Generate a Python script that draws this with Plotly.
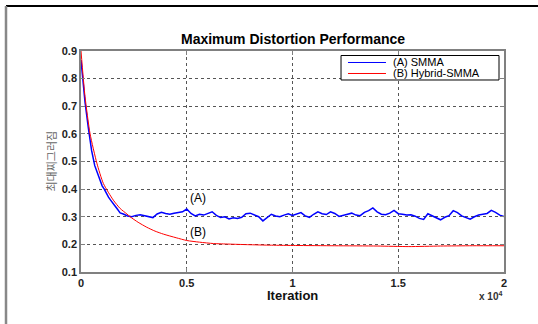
import plotly.graph_objects as go

# ---- data ----
smma_iter = [0, 80, 190, 350, 500, 650, 800, 900, 1000, 1100, 1200, 1300, 1400, 1500,
             1600, 1700, 1850, 2000, 2200, 2400, 2600, 2800, 3000, 3200, 3400, 3600,
             3800, 4000, 4200, 4400, 4600, 4800, 5000, 5200, 5400, 5600, 5800, 6000,
             6200, 6400, 6600, 6800, 7000, 7200, 7400, 7600, 7800, 8000, 8200, 8400,
             8600, 8800, 9000, 9200, 9400, 9600, 9800, 10000, 10200, 10400, 10600,
             10800, 11000, 11200, 11400, 11600, 11800, 12000, 12200, 12400, 12600,
             12800, 13000, 13200, 13400, 13600, 13800, 14000, 14200, 14400, 14600,
             14800, 15000, 15200, 15400, 15600, 15800, 16000, 16200, 16400, 16600,
             16800, 17000, 17200, 17400, 17600, 17800, 18000, 18200, 18400, 18600,
             18800, 19000, 19200, 19400, 19600, 19800, 20000]
smma_val = [0.867, 0.800, 0.715, 0.620, 0.540, 0.485, 0.452, 0.432, 0.412, 0.400,
            0.382, 0.371, 0.360, 0.348, 0.340, 0.330, 0.314, 0.310, 0.303, 0.300,
            0.305, 0.307, 0.303, 0.300, 0.297, 0.310, 0.316, 0.312, 0.309, 0.313,
            0.316, 0.318, 0.328, 0.312, 0.303, 0.309, 0.306, 0.313, 0.318, 0.305,
            0.297, 0.300, 0.292, 0.296, 0.294, 0.298, 0.311, 0.313, 0.307, 0.300,
            0.285, 0.298, 0.309, 0.303, 0.300, 0.306, 0.311, 0.305, 0.311, 0.315,
            0.303, 0.298, 0.309, 0.318, 0.311, 0.308, 0.318, 0.312, 0.301, 0.304,
            0.309, 0.313, 0.306, 0.304, 0.316, 0.322, 0.332, 0.318, 0.309, 0.307,
            0.313, 0.323, 0.311, 0.309, 0.306, 0.307, 0.302, 0.294, 0.290, 0.311,
            0.303, 0.296, 0.289, 0.298, 0.304, 0.322, 0.315, 0.303, 0.298, 0.291,
            0.300, 0.306, 0.309, 0.312, 0.323, 0.316, 0.306, 0.301]

hybrid_iter = [0, 190, 430, 750, 1060, 1530, 1850, 2170, 2320, 2700, 3110, 3500,
               3900, 4500, 5000, 5600, 6270, 7000, 7870, 9000, 10150, 12000, 14000,
               15500, 17000, 18500, 20000]
hybrid_val = [0.900, 0.735, 0.600, 0.494, 0.420, 0.360, 0.330, 0.310, 0.300, 0.280,
              0.262, 0.248, 0.237, 0.224, 0.214, 0.208, 0.203, 0.201, 0.199, 0.197,
              0.196, 0.195, 0.194, 0.192, 0.194, 0.195, 0.195]

x_tick_vals = [0, 5000, 10000, 15000, 20000]
x_tick_text = ["0", "0.5", "1", "1.5", "2"]
y_tick_vals = [0.1, 0.2, 0.3, 0.4, 0.5, 0.6, 0.7, 0.8, 0.9]
y_tick_text = ["0.1", "0.2", "0.3", "0.4", "0.5", "0.6", "0.7", "0.8", "0.9"]

series_names = ["(A) SMMA", "(B) Hybrid-SMMA"]
series_colors = ["#0000ff", "#ff0000"]
curve_labels = ["(A)", "(B)"]
label_pos_x = [5520, 5520]
label_pos_y = [0.368, 0.245]

FONT = "Liberation Sans, Arial, sans-serif"

fig = go.Figure()
fig.add_trace(go.Scatter(x=smma_iter, y=smma_val, mode="lines", name=series_names[0],
                         line=dict(color=series_colors[0], width=1.5)))
fig.add_trace(go.Scatter(x=hybrid_iter, y=hybrid_val, mode="lines", name=series_names[1],
                         line=dict(color=series_colors[1], width=1.0, shape="spline", smoothing=0.6)))

axis_common = dict(
    showline=True, linecolor="#808080", linewidth=1.5, mirror="ticks",
    ticks="inside", ticklen=4, tickcolor="#808080",
    showgrid=True, gridcolor="#555555", griddash="dot", gridwidth=1,
    zeroline=False,
    tickfont=dict(family=FONT, size=11, color="#222222", weight="bold"),
)

fig.update_xaxes(range=[0, 20000], tickvals=x_tick_vals, ticktext=x_tick_text, **axis_common)
fig.update_yaxes(range=[0.1, 0.9], tickvals=y_tick_vals, ticktext=y_tick_text, **axis_common)

annotations = []
for t, ax_, ay_ in zip(curve_labels, label_pos_x, label_pos_y):
    annotations.append(dict(x=ax_, y=ay_, xref="x", yref="y", text=t, showarrow=False,
                            font=dict(family=FONT, size=12, color="#000000")))
annotations += [
    dict(x=0.5, y=1, xref="paper", yref="paper", yshift=2, yanchor="bottom",
         text="<b>Maximum Distortion Performance</b>", showarrow=False,
         font=dict(family=FONT, size=14, color="#000000")),
    dict(x=0.5, y=0, xref="paper", yref="paper", yshift=-14, yanchor="top",
         text="<b>Iteration</b>", showarrow=False,
         font=dict(family=FONT, size=13, color="#111111")),
    dict(x=1, y=0, xref="paper", yref="paper", xanchor="right", yanchor="top", yshift=-16,
         text="<b>x 10<sup>4</sup></b>", showarrow=False,
         font=dict(family=FONT, size=10, color="#333333")),
    dict(x=0, y=0.5, xref="paper", yref="paper", xshift=-41, textangle=-90,
         text="최대찌그러짐", showarrow=False,
         font=dict(family="Noto Sans CJK KR", size=11, color="#666666")),
]

# legend box drawn by hand (compact, like the reference)
leg_x0, leg_x1, leg_y0, leg_y1 = 0.6147, 0.9882, 0.9796, 0.8688
leg_line_x0, leg_line_x1 = 0.6312, 0.7210
leg_rows_y = [0.948, 0.8982]
leg_text_x = 0.7329

shapes = [
    dict(type="line", xref="paper", yref="paper", x0=-0.1773, x1=1.2, y0=1.2036, y1=1.2036,
         line=dict(color="#000000", width=2)),
    dict(type="line", xref="paper", yref="paper", x0=-0.1773, x1=-0.1773, y0=1.2036, y1=-0.3,
         line=dict(color="#888888", width=2.5)),
    dict(type="rect", xref="paper", yref="paper", x0=leg_x0, x1=leg_x1, y0=leg_y1, y1=leg_y0,
         line=dict(color="#000000", width=1), fillcolor="#ffffff", layer="above"),
]
for name, col, ry in zip(series_names, series_colors, leg_rows_y):
    shapes.append(dict(type="line", xref="paper", yref="paper", x0=leg_line_x0, x1=leg_line_x1,
                       y0=ry, y1=ry, line=dict(color=col, width=1), layer="above"))
    annotations.append(dict(x=leg_text_x, y=ry, xref="paper", yref="paper", xanchor="left",
                            yanchor="middle", text=name, showarrow=False,
                            font=dict(family=FONT, size=11, color="#000000")))

fig.update_layout(
    width=538, height=324,
    margin=dict(l=81, r=34, t=51, b=52),
    paper_bgcolor="#ffffff", plot_bgcolor="#ffffff",
    showlegend=False,
    annotations=annotations, shapes=shapes,
)

fig.write_html("out.html")
